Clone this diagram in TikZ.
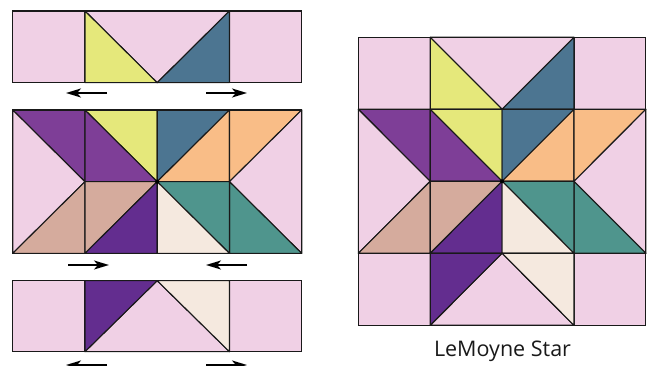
\documentclass[tikz,border=0pt]{standalone}
\usepackage{fontspec}
\setmainfont{Open Sans}
\usetikzlibrary{arrows.meta}
\definecolor{qpink}{HTML}{F0D0E5}
\definecolor{qyellow}{HTML}{E5E87B}
\definecolor{qblue}{HTML}{4C7591}
\definecolor{qpurple}{HTML}{7E3E97}
\definecolor{qorange}{HTML}{F9BD87}
\definecolor{qtan}{HTML}{D5AB9D}
\definecolor{qdpurple}{HTML}{632D8F}
\definecolor{qcream}{HTML}{F5E9DF}
\definecolor{qteal}{HTML}{4F958D}
\tikzset{
  patch/.style={fill=#1, draw=black!90, line width=1.1pt, line join=round},
  mv/.style={line width=2pt, -{Stealth[length=15pt,width=9pt,inset=4pt]}},
  label/.style={font=\fontsize{21.5}{26}\selectfont, text=black!90, inner sep=0pt}
}
\newcommand\QTop{%
  \path[patch=qpink] (0,0) rectangle (1,1);
  \path[patch=qpink] (3,0) rectangle (4,1);
  \path[patch=qpink] (1,0) -- (3,0) -- (2,1) -- cycle;
  \path[patch=qyellow] (1,0) -- (2,1) -- (1,1) -- cycle;
  \path[patch=qblue] (3,0) -- (3,1) -- (2,1) -- cycle;
  \draw[line width=1.1pt, draw=black!90] (0,0) rectangle (4,1);
}
\newcommand\QMid{%
  \path[patch=qpurple] (0,0) -- (1,0) -- (1,1) -- cycle;
  \path[patch=qpink] (0,0) -- (1,1) -- (0,2) -- cycle;
  \path[patch=qtan] (0,2) -- (1,1) -- (1,2) -- cycle;
  \path[patch=qyellow] (1,0) -- (2,0) -- (2,1) -- cycle;
  \path[patch=qpurple] (1,0) -- (2,1) -- (1,1) -- cycle;
  \path[patch=qblue] (2,0) -- (3,0) -- (2,1) -- cycle;
  \path[patch=qorange] (3,0) -- (3,1) -- (2,1) -- cycle;
  \path[patch=qorange] (3,0) -- (4,0) -- (3,1) -- cycle;
  \path[patch=qpink] (4,0) -- (3,1) -- (4,2) -- cycle;
  \path[patch=qteal] (3,1) -- (4,2) -- (3,2) -- cycle;
  \path[patch=qtan] (1,1) -- (2,1) -- (1,2) -- cycle;
  \path[patch=qdpurple] (2,1) -- (2,2) -- (1,2) -- cycle;
  \path[patch=qteal] (2,1) -- (3,1) -- (3,2) -- cycle;
  \path[patch=qcream] (2,1) -- (3,2) -- (2,2) -- cycle;
  \draw[line width=1.1pt, draw=black!90] (0,0) rectangle (4,2);
  \fill[black] (2,1) circle[radius=2pt];
}
\newcommand\QBot{%
  \path[patch=qpink] (0,0) rectangle (1,1);
  \path[patch=qpink] (3,0) rectangle (4,1);
  \path[patch=qpink] (1,1) -- (2,0) -- (3,1) -- cycle;
  \path[patch=qdpurple] (1,0) -- (2,0) -- (1,1) -- cycle;
  \path[patch=qcream] (2,0) -- (3,0) -- (3,1) -- cycle;
  \draw[line width=1.1pt, draw=black!90] (0,0) rectangle (4,1);
}
\begin{document}
\begin{tikzpicture}[x=1pt,y=-1pt]
\useasboundingbox (0,0) rectangle (654,366);
% left: exploded rows
\begin{scope}[shift={(12.7,11)}, x=72.25pt, y=-71.7pt]\QTop\end{scope}
\begin{scope}[shift={(12.7,110)}, x=72.25pt, y=-71.7pt]\QMid\end{scope}
\begin{scope}[shift={(12.7,280.7)}, x=72.25pt, y=-71pt]\QBot\end{scope}
% right: assembled block
\begin{scope}[shift={(358.3,37.3)}, x=71.9pt, y=-72pt]\QTop\end{scope}
\begin{scope}[shift={(358.3,109.3)}, x=71.9pt, y=-72pt]\QMid\end{scope}
\begin{scope}[shift={(358.3,253.3)}, x=71.9pt, y=-72pt]\QBot\end{scope}
% arrows
\coordinate (t1s) at (107,93); \coordinate (t1e) at (66,93);
\coordinate (t2s) at (206,93); \coordinate (t2e) at (247,93);
\coordinate (m1s) at (68,265); \coordinate (m1e) at (109,265);
\coordinate (m2s) at (247,265); \coordinate (m2e) at (206,265);
\coordinate (b1s) at (107,365); \coordinate (b1e) at (66,365);
\coordinate (b2s) at (206,365); \coordinate (b2e) at (247,365);
\draw[mv] (t1s) -- (t1e);
\draw[mv] (t2s) -- (t2e);
\draw[mv] (m1s) -- (m1e);
\draw[mv] (m2s) -- (m2e);
\draw[mv] (b1s) -- (b1e);
\draw[mv] (b2s) -- (b2e);
\node[label, anchor=base] (title) at (502.5,356.5) {LeMoyne Star};
\end{tikzpicture}
\end{document}
